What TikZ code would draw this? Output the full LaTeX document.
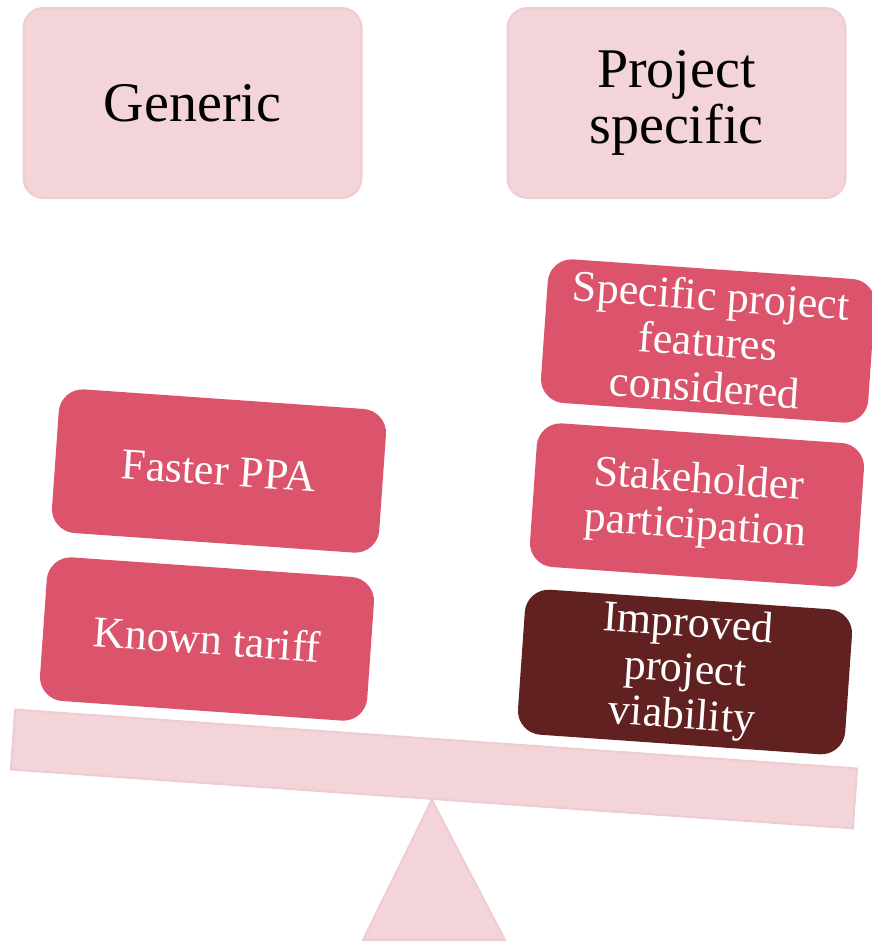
\documentclass[tikz,border=0pt]{standalone}
\usepackage{fontspec}
\setmainfont{Liberation Serif}
\definecolor{palepink}{HTML}{F2D4D9}
\definecolor{paleedge}{HTML}{EFCCD2}
\definecolor{rose}{HTML}{DB546C}
\definecolor{maroon}{HTML}{622121}
\tikzstyle{head}=[rectangle,rounded corners=10pt,fill=palepink,draw=paleedge,line width=1pt,minimum width=169pt,minimum height=95pt,align=center,font=\fontsize{28}{28}\selectfont]
\tikzstyle{block}=[rectangle,rounded corners=12pt,fill=rose,text=white,minimum width=164pt,minimum height=72pt,rotate=-4,align=center,font=\fontsize{22}{23}\selectfont]
\tikzstyle{plank}=[rectangle,fill=palepink,draw=paleedge,line width=1pt,minimum width=422pt,minimum height=30pt,rotate=-4]

\begin{document}
\begin{tikzpicture}[x=0.5pt,y=-0.5pt]
\useasboundingbox (0,0) rectangle (872,944);

\node[head] (generic) at (192.5,103) {Generic};
\node[head] (specific) at (676.5,103) {Project\\specific};

\node[block] (ppa) at (219,471) {Faster PPA};
\node[block] (tariff) at (207,639) {Known tariff};

\node[block] (features) at (708,341) {Specific project\\features\\considered};
\node[block] (stake) at (697,505) {Stakeholder\\participation};
\node[block,fill=maroon] (viable) at (685,672) {Improved\\project\\viability};

\node[plank] (beam) at (434,769) {};
\coordinate (baseL) at (363,940);
\coordinate (baseR) at (505,940);
\draw[fill=palepink,draw=paleedge,line width=1pt] (beam.south) -- (baseR) -- (baseL) -- cycle;

\end{tikzpicture}
\end{document}
